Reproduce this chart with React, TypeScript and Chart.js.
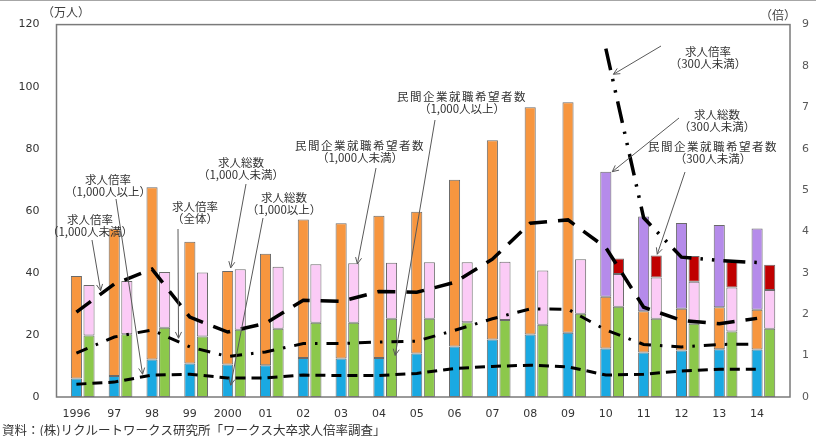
import React, { useEffect, useRef } from 'react';
import { Chart, registerables } from 'chart.js';

Chart.register(...registerables);

// ---- data (万人 / 倍) ----
const years = ['1996', '97', '98', '99', '2000', '01', '02', '03', '04', '05', '06', '07', '08', '09', '10', '11', '12', '13', '14'];

// 求人総数
const jobsOver1000 = [6.0, 6.8, 12.1, 10.8, 10.5, 10.2, 12.6, 12.4, 12.6, 14.0, 16.3, 18.5, 20.1, 20.7, 15.6, 14.3, 15.0, 15.4, 15.3];
const jobsUnder1000 = [33.0, 47.5, 55.5, 39.2, 30.1, 36.0, 44.6, 43.6, 45.8, 45.7, 53.7, 64.2, 73.3, 74.3, 16.7, 13.3, 13.4, 13.5, 12.8];
const jobsUnder300 = [null, null, null, null, null, null, null, null, null, null, null, null, null, null, 40.3, 30.6, 27.7, 26.5, 26.2];

// 民間企業就職希望者数
const seekersOver1000 = [19.8, 20.2, 22.3, 19.5, 21.7, 22.0, 23.9, 23.9, 25.2, 25.2, 24.1, 24.8, 23.3, 26.8, 29.1, 25.2, 23.6, 21.1, 22.0];
const seekersUnder1000 = [16.3, 17.2, 18.0, 20.6, 19.5, 20.0, 18.9, 19.2, 18.1, 18.2, 19.3, 18.8, 17.5, 17.6, 10.5, 13.3, 13.5, 14.2, 12.5];
const seekersUnder300 = [null, null, null, null, null, null, null, null, null, null, null, null, null, null, 5.0, 7.1, 8.3, 8.3, 8.1];

// 求人倍率
const ratioUnder1000 = [2.05, 2.73, 3.09, 1.93, 1.57, 1.78, 2.34, 2.31, 2.55, 2.53, 2.77, 3.33, 4.20, 4.28, 3.61, 2.17, 1.85, 1.77, 1.90];
const ratioAll = [1.06, 1.45, 1.62, 1.21, 0.98, 1.09, 1.29, 1.29, 1.33, 1.35, 1.61, 1.89, 2.13, 2.12, 1.62, 1.27, 1.21, 1.27, 1.28];
const ratioOver1000 = [0.31, 0.36, 0.53, 0.55, 0.46, 0.46, 0.53, 0.52, 0.52, 0.57, 0.69, 0.74, 0.77, 0.73, 0.53, 0.55, 0.63, 0.67, 0.67];
const ratioUnder300 = [null, null, null, null, null, null, null, null, null, null, null, null, null, null, 8.42, 4.33, 3.38, 3.30, 3.25];

// callouts: text position (px), arrow start (px), arrow tip in data coords
const callouts = [
  { lines: ['求人倍率', '（1,000人以上）'], tx: 108, ty: 180, from: [116, 199], to: { i: 1.75, v: 0.55, axis: 'y1' }, spacing: 0 },
  { lines: ['求人倍率', '（1,000人未満）'], tx: 90, ty: 220, from: [92, 240], to: { i: 0.64, v: 2.57, axis: 'y1' }, spacing: 0 },
  { lines: ['求人倍率', '（全体）'], tx: 195, ty: 207, from: [178, 229], to: { i: 2.7, v: 1.42, axis: 'y1' }, spacing: 0 },
  { lines: ['求人総数', '（1,000人未満）'], tx: 241, ty: 163, from: [246, 184], to: { i: 4.08, v: 41.6, axis: 'y' }, spacing: 0 },
  { lines: ['求人総数', '（1,000以上）'], tx: 284, ty: 198, from: [263, 218], to: { i: 4.08, v: 3.8, axis: 'y' }, spacing: 0 },
  { lines: ['民間企業就職希望者数', '（1,000人未満）'], tx: 360, ty: 146, from: [376, 168], to: { i: 7.43, v: 42.9, axis: 'y' }, spacing: 1.5 },
  { lines: ['民間企業就職希望者数', '（1,000人以上）'], tx: 462, ty: 97, from: [435, 120], to: { i: 8.43, v: 13.4, axis: 'y' }, spacing: 1.5 },
  { lines: ['求人倍率', '（300人未満）'], tx: 708, ty: 52, from: [661, 46], to: { i: 14.2, v: 7.8, axis: 'y1' }, spacing: 0 },
  { lines: ['求人総数', '（300人未満）'], tx: 717, ty: 115, from: [679, 118], to: { i: 14.17, v: 72.6, axis: 'y' }, spacing: 0 },
  { lines: ['民間企業就職希望者数', '（300人未満）'], tx: 713, ty: 147, from: [685, 172], to: { i: 15.36, v: 46, axis: 'y' }, spacing: 1.5 },
];

const sourceText = '資料：(株)リクルートワークス研究所「ワークス大卒求人倍率調査」';

const BLUE = '#1AA9E2';
const ORANGE = '#F7963F';
const PURPLE = '#B58BEA';
const GREEN = '#8CC84B';
const PINK = '#FBCBF6';
const RED = '#C00000';
const EDGE = '#6a6a6a';

const CJK = '"Noto Sans CJK JP", "Noto Sans", sans-serif';
const NUM = '"DejaVu Sans", sans-serif';

const decorPlugin = {
  id: 'decor',
  afterDraw(chart: any) {
    const ctx = chart.ctx as CanvasRenderingContext2D;
    const ca = chart.chartArea;
    const xs = chart.scales.x;
    ctx.save();
    // outer top line
    ctx.strokeStyle = '#a6a6a6';
    ctx.lineWidth = 1;
    ctx.beginPath();
    ctx.moveTo(0, 0.5);
    ctx.lineTo(816, 0.5);
    ctx.stroke();
    // plot border (extends a bit to the right of the category band)
    ctx.strokeStyle = '#7a7a7a';
    ctx.lineWidth = 1.5;
    ctx.strokeRect(ca.left - 1, ca.top, 790 - (ca.left - 1), ca.bottom - ca.top);

    // unit labels
    ctx.fillStyle = '#404040';
    ctx.font = `12px ${CJK}`;
    ctx.textAlign = 'center';
    ctx.textBaseline = 'middle';
    ctx.fillText('（万人）', 66, 12);
    ctx.fillText('（倍）', 778, 15);

    // callouts
    ctx.font = `11.5px ${CJK}`;
    ctx.fillStyle = '#333333';
    for (const c of callouts) {
      c.lines.forEach((t, k) => {
        (ctx as any).letterSpacing = k === 0 && c.spacing ? `${c.spacing}px` : '0px';
        ctx.fillText(t, c.tx, c.ty + k * 12);
      });
      (ctx as any).letterSpacing = '0px';
      const ys = chart.scales[c.to.axis];
      const tx = xs.getPixelForValue(c.to.i);
      const ty = ys.getPixelForValue(c.to.v);
      const [fx, fy] = c.from;
      ctx.strokeStyle = '#595959';
      ctx.lineWidth = 1;
      ctx.beginPath();
      ctx.moveTo(fx, fy);
      ctx.lineTo(tx, ty);
      const ang = Math.atan2(ty - fy, tx - fx);
      const h = 7;
      ctx.moveTo(tx - h * Math.cos(ang - 0.45), ty - h * Math.sin(ang - 0.45));
      ctx.lineTo(tx, ty);
      ctx.lineTo(tx - h * Math.cos(ang + 0.45), ty - h * Math.sin(ang + 0.45));
      ctx.stroke();
    }

    // source
    ctx.textAlign = 'left';
    ctx.fillStyle = '#333333';
    ctx.font = `12.5px ${CJK}`;
    ctx.fillText(sourceText, 2, 430);
    ctx.restore();
  },
};

export default function App() {
  const ref = useRef<HTMLCanvasElement | null>(null);

  useEffect(() => {
    if (!ref.current) return;
    const barCommon = {
      borderColor: EDGE,
      borderWidth: 1,
      borderSkipped: false,
      barPercentage: 0.88,
      categoryPercentage: 1.0,
      order: 2,
      yAxisID: 'y',
    };
    const lineCommon = {
      type: 'line' as const,
      yAxisID: 'y1',
      borderColor: '#000000',
      backgroundColor: '#000000',
      pointRadius: 0,
      fill: false,
      tension: 0,
      order: 0,
      borderCapStyle: 'butt' as const,
      spanGaps: false,
    };
    const chart = new Chart(ref.current, {
      type: 'bar',
      data: {
        labels: years,
        datasets: [
          { ...barCommon, label: '', data: years.map(() => null), stack: 'pad', backgroundColor: 'rgba(0,0,0,0)', borderWidth: 0 },
          { ...barCommon, label: '求人総数（1,000人以上）', data: jobsOver1000, stack: 'jobs', backgroundColor: BLUE },
          { ...barCommon, label: '求人総数（1,000人未満）', data: jobsUnder1000, stack: 'jobs', backgroundColor: ORANGE },
          { ...barCommon, label: '求人総数（300人未満）', data: jobsUnder300, stack: 'jobs', backgroundColor: PURPLE },
          { ...barCommon, label: '民間企業就職希望者数（1,000人以上）', data: seekersOver1000, stack: 'seekers', backgroundColor: GREEN },
          { ...barCommon, label: '民間企業就職希望者数（1,000人未満）', data: seekersUnder1000, stack: 'seekers', backgroundColor: PINK },
          { ...barCommon, label: '民間企業就職希望者数（300人未満）', data: seekersUnder300, stack: 'seekers', backgroundColor: RED },
          { ...lineCommon, label: '求人倍率（1,000人未満）', data: ratioUnder1000, borderWidth: 3.5, borderDash: [18, 11] },
          { ...lineCommon, label: '求人倍率（全体）', data: ratioAll, borderWidth: 3, borderDash: [12, 9, 2.5, 9] },
          { ...lineCommon, label: '求人倍率（1,000人以上）', data: ratioOver1000, borderWidth: 3, borderDash: [10, 6] },
          { ...lineCommon, label: '求人倍率（300人未満）', data: ratioUnder300, borderWidth: 3.5, borderDash: [22, 9, 2.5, 9, 2.5, 9] },
        ] as any,
      },
      options: {
        responsive: false,
        animation: false,
        devicePixelRatio: 1,
        layout: { padding: { top: 22, left: 0, right: 0, bottom: 0 } },
        plugins: {
          legend: { display: false },
          tooltip: { enabled: false },
          title: { display: false },
        },
        scales: {
          x: {
            grid: { display: false },
            border: { display: false },
            ticks: {
              color: '#333333',
              font: { family: NUM, size: 11 },
              padding: 3,
              maxRotation: 0,
              autoSkip: false,
            },
            afterFit: (s: any) => {
              s.height = 39;
            },
          },
          y: {
            position: 'left',
            stacked: true,
            min: 0,
            max: 120,
            grid: { display: false },
            border: { display: false },
            ticks: {
              stepSize: 20,
              color: '#333333',
              font: { family: NUM, size: 11 },
              padding: 10,
            },
            afterFit: (s: any) => {
              s.width = 57.5;
            },
          },
          y1: {
            position: 'right',
            min: 0,
            max: 9,
            grid: { display: false },
            border: { display: false },
            ticks: {
              stepSize: 1,
              color: '#595959',
              font: { family: NUM, size: 11 },
              padding: 18,
            },
            afterFit: (s: any) => {
              s.width = 40;
            },
          },
        },
      } as any,
      plugins: [decorPlugin],
    });
    return () => chart.destroy();
  }, []);

  return (
    <div style={{ position: 'absolute', left: 0, top: 0, width: 816, height: 436, background: '#ffffff' }}>
      <canvas ref={ref} width={816} height={436} style={{ display: 'block', width: 816, height: 436 }} />
    </div>
  );
}
